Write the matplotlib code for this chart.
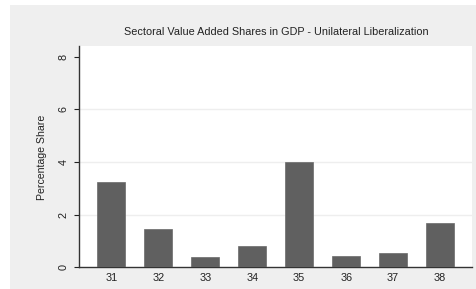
import matplotlib
matplotlib.use("Agg")
import matplotlib.pyplot as plt
from matplotlib.patches import Rectangle

plt.rcParams['font.family'] = ['Liberation Sans', 'DejaVu Sans']

sectors = ["31", "32", "33", "34", "35", "36", "37", "38"]
shares = [3.24, 1.47, 0.39, 0.82, 4.01, 0.43, 0.54, 1.67]
yticks = [0, 2, 4, 6, 8]

W, H = 476, 289
fig = plt.figure(figsize=(W / 100, H / 100), dpi=100, facecolor='white')
fig.patches.append(Rectangle((10 / W, 0), 1 - 10 / W, 1 - 5 / H, transform=fig.transFigure,
                             facecolor='#efefef', edgecolor='none', zorder=-10))

ax = fig.add_axes([79 / W, (H - 267.3) / H, (472 - 79) / W, (267.3 - 45.7) / H])
ax.set_facecolor('white')
x = list(range(len(sectors)))
ax.bar(x, shares, width=0.6, color='#606060', edgecolor='#6a6a6a', linewidth=0.5, zorder=3)
ax.set_xlim(-0.69, 7.68)
ax.set_ylim(0, 8.42)
ax.set_xticks(x)
ax.set_xticklabels(sectors)
ax.set_yticks(yticks)
ax.set_yticklabels([str(v) for v in yticks], rotation=90, va='center')
for g in [2, 4, 6]:
    ax.axhline(g, color='#eeeeee', linewidth=1.0, zorder=1)
for s in ['top', 'right']:
    ax.spines[s].set_visible(False)
for s in ['left', 'bottom']:
    ax.spines[s].set_color('#333333')
    ax.spines[s].set_linewidth(1.0)
ax.tick_params(axis='x', length=0, pad=4, labelsize=7.8, colors='#222222')
ax.tick_params(axis='y', length=3.5, width=0.8, pad=4, labelsize=7.8, colors='#222222')

fig.text(276 / W, (H - 32) / H, "Sectoral Value Added Shares in GDP - Unilateral Liberalization",
         ha='center', va='center', fontsize=7.8, color='#222222')
fig.text(42 / W, (H - 157) / H, "Percentage Share", rotation=90, ha='center', va='center',
         fontsize=7.6, color='#222222')

fig.savefig("out.png", dpi=100, facecolor='white')
